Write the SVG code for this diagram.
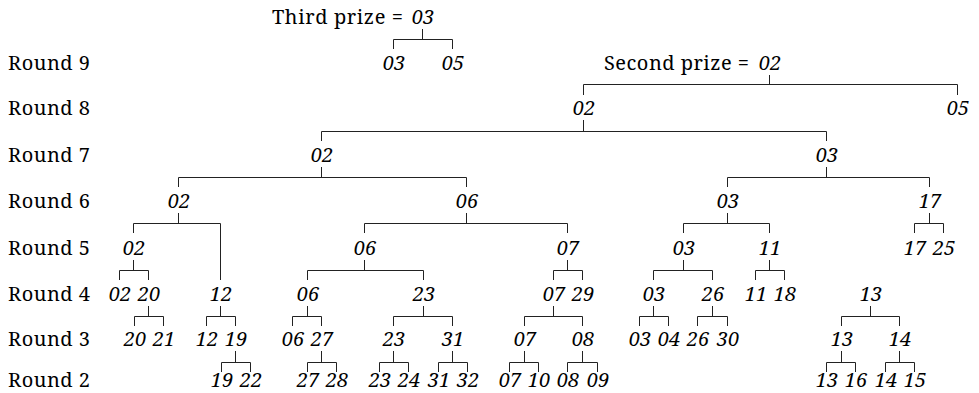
<svg xmlns="http://www.w3.org/2000/svg" width="979" height="393" viewBox="0 0 979 393">
<style>
text{font-family:'Noto Serif','Liberation Serif','DejaVu Serif',serif;font-size:20px;fill:#000}
.n{font-style:italic;text-anchor:middle}
.lbl{text-anchor:start}
.c path{fill:none;stroke:#222;stroke-width:1}
</style>
<rect width="979" height="393" fill="#fff"/>
<g id="round-labels">
<text class="lbl" x="8" y="70" textLength="82" lengthAdjust="spacing">Round 9</text>
<text class="lbl" x="8" y="115" textLength="82" lengthAdjust="spacing">Round 8</text>
<text class="lbl" x="8" y="162" textLength="82" lengthAdjust="spacing">Round 7</text>
<text class="lbl" x="8" y="208" textLength="82" lengthAdjust="spacing">Round 6</text>
<text class="lbl" x="8" y="255" textLength="82" lengthAdjust="spacing">Round 5</text>
<text class="lbl" x="8" y="301" textLength="82" lengthAdjust="spacing">Round 4</text>
<text class="lbl" x="8" y="346" textLength="82" lengthAdjust="spacing">Round 3</text>
<text class="lbl" x="8" y="387" textLength="82" lengthAdjust="spacing">Round 2</text>
</g>
<g id="third-prize"><text x="272" y="24" textLength="131" lengthAdjust="spacing">Third prize =</text><text class="n" x="423" y="24">03</text></g>
<g id="second-prize"><text x="604" y="70" textLength="145" lengthAdjust="spacing">Second prize =</text><text class="n" x="770" y="70">02</text></g>
<g class="c" id="connectors">
<path d="M422.5,29V39.5M393.5,49V39.5H452.5V49"/>
<path d="M769.5,75V84.5M583.5,95V84.5H957.5V95"/>
<path d="M583.5,120V131.5M321.5,141V131.5H826.5V141"/>
<path d="M321.5,167V177.5M178.5,187V177.5H466.5V187"/>
<path d="M826.5,167V177.5M727.5,187V177.5H929.5V187"/>
<path d="M178.5,213V223.5M133.5,233V223.5H220.5V280"/>
<path d="M466.5,213V223.5M364.5,233V223.5H567.5V233"/>
<path d="M727.5,213V223.5M683.5,233V223.5H769.5V233"/>
<path d="M929.5,213V223.5M914.5,233V223.5H943.5V233"/>
<path d="M133.5,260V270.5M119.5,280V270.5H148.5V280"/>
<path d="M364.5,260V270.5M307.5,280V270.5H423.5V280"/>
<path d="M567.5,260V270.5M553.5,280V270.5H582.5V280"/>
<path d="M683.5,260V270.5M653.5,280V270.5H712.5V280"/>
<path d="M769.5,260V270.5M755.5,280V270.5H784.5V280"/>
<path d="M148.5,306V316.5M134.5,326V316.5H163.5V326"/>
<path d="M220.5,306V316.5M206.5,326V316.5H235.5V326"/>
<path d="M307.5,306V316.5M292.5,326V316.5H321.5V326"/>
<path d="M423.5,306V316.5M393.5,326V316.5H452.5V326"/>
<path d="M553.5,306V316.5M524.5,326V316.5H582.5V326"/>
<path d="M653.5,306V316.5M639.5,326V316.5H668.5V326"/>
<path d="M712.5,306V316.5M697.5,326V316.5H727.5V326"/>
<path d="M870.5,306V316.5M841.5,326V316.5H899.5V326"/>
<path d="M235.5,351V362.5M221.5,372V362.5H250.5V372"/>
<path d="M321.5,351V362.5M307.5,372V362.5H336.5V372"/>
<path d="M393.5,351V362.5M379.5,372V362.5H408.5V372"/>
<path d="M452.5,351V362.5M438.5,372V362.5H467.5V372"/>
<path d="M524.5,351V362.5M509.5,372V362.5H538.5V372"/>
<path d="M582.5,351V362.5M567.5,372V362.5H597.5V372"/>
<path d="M841.5,351V362.5M826.5,372V362.5H855.5V372"/>
<path d="M899.5,351V362.5M885.5,372V362.5H914.5V372"/>
</g>
<g id="n9-03"><text class="n" x="394" y="70">03</text></g>
<g id="n9-05"><text class="n" x="453" y="70">05</text></g>
<g id="n8-02"><text class="n" x="584" y="115">02</text></g>
<g id="n8-05"><text class="n" x="958" y="115">05</text></g>
<g id="n7-02"><text class="n" x="322" y="162">02</text></g>
<g id="n7-03"><text class="n" x="827" y="162">03</text></g>
<g id="n6-02"><text class="n" x="179" y="208">02</text></g>
<g id="n6-06"><text class="n" x="467" y="208">06</text></g>
<g id="n6-03"><text class="n" x="728" y="208">03</text></g>
<g id="n6-17"><text class="n" x="930" y="208">17</text></g>
<g id="n5-02"><text class="n" x="134" y="255">02</text></g>
<g id="n5-06"><text class="n" x="365" y="255">06</text></g>
<g id="n5-07"><text class="n" x="568" y="255">07</text></g>
<g id="n5-03"><text class="n" x="684" y="255">03</text></g>
<g id="n5-11"><text class="n" x="770" y="255">11</text></g>
<g id="n5-17"><text class="n" x="915" y="255">17</text></g>
<g id="n5-25"><text class="n" x="944" y="255">25</text></g>
<g id="n4-02"><text class="n" x="120" y="301">02</text></g>
<g id="n4-20"><text class="n" x="149" y="301">20</text></g>
<g id="n4-12"><text class="n" x="221" y="301">12</text></g>
<g id="n4-06"><text class="n" x="308" y="301">06</text></g>
<g id="n4-23"><text class="n" x="424" y="301">23</text></g>
<g id="n4-07"><text class="n" x="554" y="301">07</text></g>
<g id="n4-29"><text class="n" x="583" y="301">29</text></g>
<g id="n4-03"><text class="n" x="654" y="301">03</text></g>
<g id="n4-26"><text class="n" x="713" y="301">26</text></g>
<g id="n4-11"><text class="n" x="756" y="301">11</text></g>
<g id="n4-18"><text class="n" x="785" y="301">18</text></g>
<g id="n4-13"><text class="n" x="871" y="301">13</text></g>
<g id="n3-20"><text class="n" x="135" y="346">20</text></g>
<g id="n3-21"><text class="n" x="164" y="346">21</text></g>
<g id="n3-12"><text class="n" x="207" y="346">12</text></g>
<g id="n3-19"><text class="n" x="236" y="346">19</text></g>
<g id="n3-06"><text class="n" x="293" y="346">06</text></g>
<g id="n3-27"><text class="n" x="322" y="346">27</text></g>
<g id="n3-23"><text class="n" x="394" y="346">23</text></g>
<g id="n3-31"><text class="n" x="453" y="346">31</text></g>
<g id="n3-07"><text class="n" x="525" y="346">07</text></g>
<g id="n3-08"><text class="n" x="583" y="346">08</text></g>
<g id="n3-03"><text class="n" x="640" y="346">03</text></g>
<g id="n3-04"><text class="n" x="669" y="346">04</text></g>
<g id="n3-26"><text class="n" x="698" y="346">26</text></g>
<g id="n3-30"><text class="n" x="728" y="346">30</text></g>
<g id="n3-13"><text class="n" x="842" y="346">13</text></g>
<g id="n3-14"><text class="n" x="900" y="346">14</text></g>
<g id="n2-19"><text class="n" x="222" y="387">19</text></g>
<g id="n2-22"><text class="n" x="251" y="387">22</text></g>
<g id="n2-27"><text class="n" x="308" y="387">27</text></g>
<g id="n2-28"><text class="n" x="337" y="387">28</text></g>
<g id="n2-23"><text class="n" x="380" y="387">23</text></g>
<g id="n2-24"><text class="n" x="409" y="387">24</text></g>
<g id="n2-31"><text class="n" x="439" y="387">31</text></g>
<g id="n2-32"><text class="n" x="468" y="387">32</text></g>
<g id="n2-07"><text class="n" x="510" y="387">07</text></g>
<g id="n2-10"><text class="n" x="539" y="387">10</text></g>
<g id="n2-08"><text class="n" x="568" y="387">08</text></g>
<g id="n2-09"><text class="n" x="598" y="387">09</text></g>
<g id="n2-13"><text class="n" x="827" y="387">13</text></g>
<g id="n2-16"><text class="n" x="856" y="387">16</text></g>
<g id="n2-14"><text class="n" x="886" y="387">14</text></g>
<g id="n2-15"><text class="n" x="915" y="387">15</text></g>
</svg>
